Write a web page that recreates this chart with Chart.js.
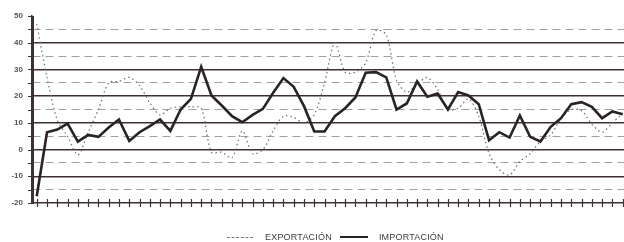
<!DOCTYPE html>
<html>
<head>
<meta charset="utf-8">
<script src="https://cdn.jsdelivr.net/npm/chart.js@4"></script>
<style>
  html, body { margin: 0; padding: 0; background: #fff; }
  #wrap { position: relative; width: 624px; height: 242px; }
  #legend {
    position: absolute; left: 227px; top: 231px; height: 12px;
    display: flex; align-items: center;
    font: 9px "Liberation Sans", Arial, sans-serif; color: #3c3c3c; letter-spacing: 0.2px;
  }
  .dash { display: inline-block; width: 26px; border-top: 1px dashed #7a7a7a; margin-right: 12px; }
  .solid { display: inline-block; width: 28px; border-top: 2.5px solid #2a2324; margin: 0 11px 0 8px; }
</style>
</head>
<body>
<div id="wrap">
  <canvas id="chart" width="624" height="242"></canvas>
  <div id="legend">
    <span class="dash"></span><span>EXPORTACIÓN</span>
    <span class="solid"></span><span>IMPORTACIÓN</span>
  </div>
</div>
<script>
(function() {
    'use strict';

    // monthly values, Jan 1995 onwards
    const years = ['1995', '1996', '1997', '1998', '1999'];

    const exportacion = [
        47, 27, 11, 5, -2, 6.5, 15, 25, 25.5, 27, 24, 17.5,
        13, 15.5, 16, 16, 15.5, -1, -1, -3, 7, -1.5, 0, 7,
        12.5, 12, 10, 13, 25, 40, 29, 29, 32.5, 44.5, 43, 26,
        21.5, 24.5, 27, 22.5, 15, 15.5, 19, 12.5, -1.5, -7.5, -9.5, -4.5,
        -1.5, 3, 5.5, 11.5, 15, 14.5, 9.5, 6.5, 10, 13.5
    ];

    const importacion = [
        -17.5, 6.5, 7.5, 9.75, 3, 5.5, 4.75, 8.25, 11.25, 3.25, 6.5, 8.75,
        11.25, 7, 15, 19, 31, 20.25, 16.5, 12.5, 10.25, 13, 15.25, 21.25,
        26.75, 23.5, 16.25, 6.75, 6.75, 12.5, 15.5, 19.5, 28.75, 29, 27, 15,
        17.25, 25.5, 19.75, 21, 15, 21.5, 20.25, 17, 3.5, 6.5, 4.5, 12.75,
        4.75, 3, 8.5, 11.75, 17, 17.75, 16, 11.75, 14.25, 13.25
    ];

    const DARK = '#3e3032';
    const toPoints = arr => arr.map((v, i) => ({ x: i, y: v }));

    // month marks crossing the bottom axis, plus the left axis with its ticks
    const axisMarks = {
        id: 'axisMarks',
        afterDraw(chart) {
            const x = chart.scales.x, y = chart.scales.y;
            const ctx = chart.ctx;
            const base = y.getPixelForValue(-20);
            const left = Math.round(chart.chartArea.left) + 1;
            ctx.save();
            ctx.setLineDash([]);
            ctx.strokeStyle = DARK;
            ctx.lineWidth = 1.2;
            ctx.beginPath();
            for (let m = 0; m < importacion.length; m++) {
                const px = Math.round(x.getPixelForValue(m)) + 0.5;
                ctx.moveTo(px, base - 4);
                ctx.lineTo(px, base + 4);
            }
            for (let v = -20; v <= 50; v += 5) {
                const py = Math.round(y.getPixelForValue(v)) + 0.5;
                ctx.moveTo(left - 5, py);
                ctx.lineTo(left, py);
            }
            ctx.stroke();
            ctx.lineWidth = 2;
            ctx.beginPath();
            ctx.moveTo(left, Math.round(y.getPixelForValue(50)));
            ctx.lineTo(left, base + 1);
            ctx.stroke();
            ctx.restore();
        }
    };

    new Chart(document.getElementById('chart'), {
        type: 'line',
        data: {
            datasets: [
                {
                    label: 'EXPORTACIÓN',
                    data: toPoints(exportacion),
                    borderColor: '#6c6c6c', borderWidth: 1.2, borderDash: [1.5, 3],
                    tension: 0.3, pointRadius: 0, order: 1
                },
                {
                    label: 'IMPORTACIÓN',
                    data: toPoints(importacion),
                    borderColor: '#2a2324', borderWidth: 2.6,
                    tension: 0, pointRadius: 0, order: 0
                }
            ]
        },
        options: {
            responsive: false,
            animation: false,
            layout: { padding: { left: 0, top: 16, right: 0, bottom: 24 } },
            plugins: { legend: { display: false }, tooltip: { enabled: false } },
            scales: {
                x: {
                    type: 'linear', min: -0.46, max: 57.13,
                    afterFit: s => { s.height = 15; },
                    afterBuildTicks: s => { s.ticks = years.map((_, i) => ({ value: i * 12 })); },
                    grid: { display: false },
                    border: { display: true, color: DARK, width: 1.5 },
                    ticks: {
                        autoSkip: false, maxRotation: 0, padding: 5,
                        font: { family: 'Liberation Sans', size: 8, weight: 'bold' }, color: '#555',
                        callback: v => years[v / 12]
                    }
                },
                y: {
                    min: -20, max: 50,
                    afterFit: s => { s.width = 32; },
                    border: {
                        display: true, color: DARK, width: 1.5,
                        dash: ctx => (ctx.tick && ctx.tick.value % 10 !== 0) ? [8, 5] : []
                    },
                    grid: {
                        color: ctx => {
                            const v = ctx.tick.value;
                            if (v === 50 || v === -20) return 'rgba(0,0,0,0)';
                            return v % 10 === 0 ? DARK : '#a0a0a0';
                        },
                        lineWidth: ctx => ctx.tick.value % 10 === 0 ? 1.5 : 1,
                        drawTicks: false
                    },
                    ticks: {
                        stepSize: 5, padding: 9,
                        font: { family: 'Liberation Sans', size: 8, weight: 'bold' }, color: '#555',
                        callback: v => v % 10 === 0 ? v : ''
                    }
                }
            }
        },
        plugins: [axisMarks]
    });
})();
</script>
</body>
</html>
